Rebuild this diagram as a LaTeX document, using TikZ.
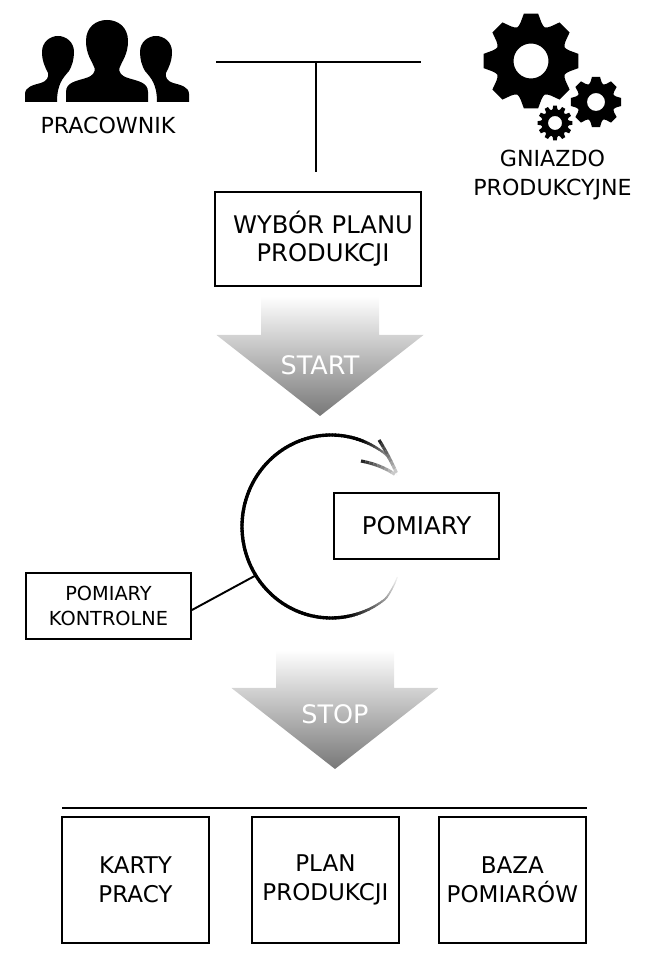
\documentclass[tikz,border=0pt]{standalone}
\usepackage{fontspec}
\setmainfont{DejaVu Sans}
\usetikzlibrary{
	arrows.meta,
	positioning,
	calc
}
\tikzstyle{info} = [rectangle, draw=black, line width=1.1pt, text centered, align=center, inner sep=0pt]
\tikzstyle{wynik} = [info, minimum width=2.94cm, minimum height=2.52cm, font=\fontsize{13.1}{16.5}\selectfont]
\tikzstyle{linia} = [line width=1.1pt, draw=black]

% ikona: glowa i ramiona osoby
\newcommand{\osobaSrodek}[1]{
	\fill[shift={(#1)}] (-.82,0) -- (-.82,.2) .. controls (-.82,.4) and (-.6,.42) .. (-.42,.48)
	.. controls (-.28,.52) and (-.23,.6) .. (-.25,.68) .. controls (-.3,.82) and (-.42,.95) .. (-.42,1.22)
	.. controls (-.42,1.5) and (-.22,1.64) .. (0,1.64) .. controls (.22,1.64) and (.42,1.5) .. (.42,1.22)
	.. controls (.42,.95) and (.3,.82) .. (.25,.68) .. controls (.23,.6) and (.28,.52) .. (.42,.48)
	.. controls (.6,.42) and (.82,.4) .. (.82,.2) -- (.82,0) -- cycle;
}
\newcommand{\osobaBok}[2]{
	\fill[shift={(#1)}, xscale=#2] (-.66,0) -- (-.66,.16) .. controls (-.66,.3) and (-.5,.34) .. (-.34,.38)
	.. controls (-.22,.42) and (-.18,.5) .. (-.2,.58) .. controls (-.26,.7) and (-.32,.82) .. (-.32,1.0)
	.. controls (-.32,1.2) and (-.16,1.32) .. (0,1.32) .. controls (.16,1.32) and (.32,1.2) .. (.32,1.0)
	.. controls (.32,.85) and (.28,.72) .. (.22,.62) .. controls (.1,.48) and (-.02,.36) .. (-.02,0) -- cycle;
}
% ikona: kolo zebate {srodek}{zeby}{r zewn.}{r wewn.}{otwor}{pol zeba}{pol podstawy}
\newcommand{\kolo}[7]{
	\pgfmathsetmacro{\krok}{360/#2}
	\fill[even odd rule, shift={(#1)}]
	(90-#7:#4) foreach \z in {1,...,#2} {
		-- ({90+(\z-1)*\krok-#6}:#3) -- ({90+(\z-1)*\krok+#6}:#3) -- ({90+(\z-1)*\krok+#7}:#4)
		.. controls ({90+(\z-.5)*\krok}:{#4*0.88}) .. ({90+\z*\krok-#7}:#4)
	} -- cycle (0,0) circle (#5);
}
% duza strzalka w dol, #1 = grot
\newcommand{\strzalka}[4]{
	\shade[top color=white, bottom color=black!53, shift={(#1)}]
	(-1.18,#2) -- (1.18,#2) -- (1.18,1.62) -- (2.07,1.62) -- (0,0) -- (-2.07,1.62) -- (-1.18,1.62) -- cycle;
	\node[text=white, font=\fontsize{14.5}{16}\selectfont] (#3) at ($(#1)+(0,#4)$) {#3};
}

\begin{document}
\begin{tikzpicture}
	\useasboundingbox (0,0) rectangle (13,19.4);
	
	% ====== Pracownik ======
	\osobaBok{1.16,17.36}{1}
	\osobaBok{3.12,17.36}{-1}
	\osobaSrodek{2.14,17.36}
	\node[font=\fontsize{12.6}{16}\selectfont] (pracownik) at (2.16,16.9) {PRACOWNIK};
	
	% ====== Gniazdo ======
	\kolo{10.62,18.18}{8}{.96}{.8}{.35}{8.5}{15}
	\kolo{11.92,17.36}{8}{.51}{.42}{.18}{9}{15}
	\kolo{11.1,16.94}{12}{.35}{.29}{.14}{6}{9}
	\node[font=\fontsize{12.6}{16.5}\selectfont, align=center] (gniazdo) at (11.05,15.89) {GNIAZDO\\PRODUKCYJNE};
	
	% ====== Wybor planu ======
	\coordinate (tl) at (4.32,18.16);
	\coordinate (tr) at (8.42,18.16);
	\coordinate (tg) at (6.32,18.16);
	\coordinate (td) at (6.32,15.96);
	\draw[linia] (tl) -- (tr);
	\draw[linia] (tg) -- (td);
	\node[info, minimum width=4.12cm, minimum height=1.88cm] (wybor) at (6.36,14.62) {};
	\node[font=\fontsize{13.8}{16}\selectfont, align=center] (wyborTxt) at ($(wybor)+(.1,0)$) {WYBÓR PLANU\\PRODUKCJI};
	
	% ====== Start ======
	\strzalka{6.4,11.08}{2.4}{START}{1.02}
	
	% ====== Petla pomiarow ======
	\coordinate (c) at (6.62,8.87);
	\foreach \a in {37,39,...,321} {
		\pgfmathsetmacro{\b}{\a+2.2}
		\pgfmathsetmacro{\g}{min(100,min((\a-36)/34*100,(324-\a)/44*100))}
		\pgfmathsetmacro{\s}{.5+1.4*\g/100}
		\pgfmathsetmacro{\ra}{1-.07*max(0,(52-min(\a,360-\a))/15)}
		\pgfmathsetmacro{\rb}{1-.07*max(0,(52-min(\b,360-\b))/15)}
		\draw[black!\g, line width=\s pt, line cap=round]
		($(c)+({\a}:{1.78*\ra} and {1.83*\ra})$) -- ($(c)+({\b}:{1.78*\rb} and {1.83*\rb})$);
	}
	% grot petli
	\coordinate (g0) at (7.96,9.87);
	\foreach \xa/\ya/\xc/\yc in {7.58/10.6/7.8/10.25, 7.22/10.18/7.65/10.1} {
		\foreach \t in {0,.1,...,.9} {
			\pgfmathsetmacro{\g}{85-\t*80}
			\pgfmathsetmacro{\s}{\t+.1}
			\draw[black!\g, line width=1.8pt]
			($($(\xa,\ya)!\t!(\xc,\yc)$)!\t!($(\xc,\yc)!\t!(g0)$)$) -- ($($(\xa,\ya)!\s!(\xc,\yc)$)!\s!($(\xc,\yc)!\s!(g0)$)$);
		}
	}
	\node[info, minimum width=3.3cm, minimum height=1.32cm, font=\fontsize{13.9}{16}\selectfont] (pomiary) at (8.33,8.88) {POMIARY};
	\node[info, minimum width=3.3cm, minimum height=1.32cm, font=\fontsize{11}{14}\selectfont] (kontrolne) at (2.17,7.28) {POMIARY\\KONTROLNE};
	\coordinate (k1) at ($(c)+(213:1.8)$);
	\draw[linia] ([yshift=-.08cm]kontrolne.east) -- (k1);
	
	% ====== Stop ======
	\strzalka{6.7,4.02}{2.38}{STOP}{1.1}
	
	% ====== Wyniki ======
	\coordinate (bl) at (1.24,3.24);
	\coordinate (br) at (11.74,3.24);
	\draw[linia] (bl) -- (br);
	\node[wynik] (karty) at (2.71,1.8) {KARTY\\PRACY};
	\node[wynik, right=0.82cm of karty] (plan) {PLAN\\PRODUKCJI};
	\node[wynik, right=0.76cm of plan] (baza) {BAZA\\POMIARÓW};
	
\end{tikzpicture}
\end{document}
